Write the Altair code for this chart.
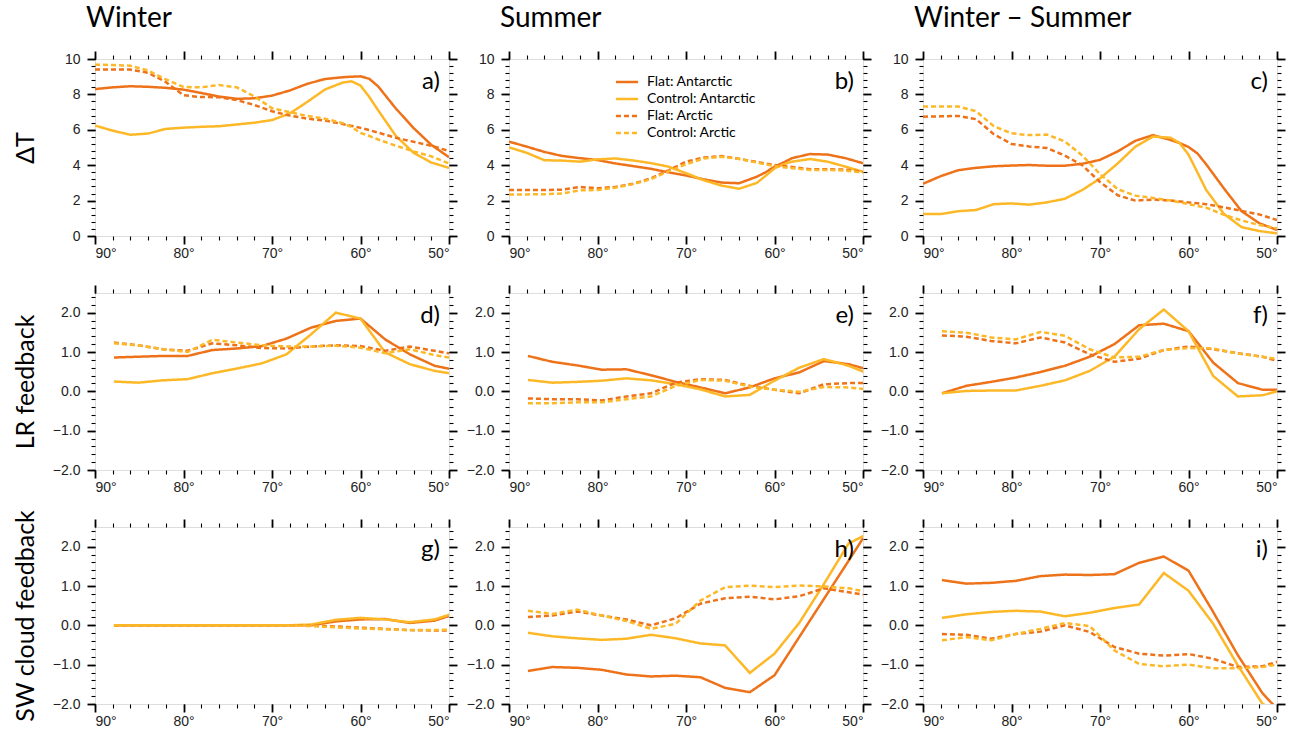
import altair as alt
import pandas as pd

SERIES = ["Flat: Antarctic", "Control: Antarctic", "Flat: Arctic", "Control: Arctic"]
COLORS = ["#ee7219", "#fdb827", "#ee7219", "#fdb827"]
DASHES = [[1, 0], [1, 0], [5, 3], [5, 3]]

COL_TITLES = ["Winter", "Summer", "Winter \u2013 Summer"]
ROW_TITLES = ["\u0394T", "LR feedback", "SW cloud feedback"]
LETTERS = ["a)", "b)", "c)", "d)", "e)", "f)", "g)", "h)", "i)"]

# latitude grids
LAT_T = [90, 88, 86, 84, 82, 80, 78, 76, 74, 72, 70, 68, 66, 64, 62, 61, 60, 59, 58, 56, 54, 52, 50]
LAT_G = [87.86, 85.10, 82.31, 79.53, 76.74, 73.95, 71.16, 68.37, 65.58, 62.79, 60.00, 57.21, 54.42, 51.63, 48.84]

# a) Winter dT
A_FA = [8.30, 8.40, 8.46, 8.43, 8.37, 8.27, 8.08, 7.88, 7.75, 7.78, 7.93, 8.22, 8.60, 8.87, 8.97, 9.00, 9.02, 8.88, 8.45, 7.20, 6.10, 5.15, 4.45]
A_CA = [6.24, 5.95, 5.72, 5.79, 6.05, 6.12, 6.17, 6.20, 6.30, 6.40, 6.55, 6.92, 7.58, 8.28, 8.67, 8.74, 8.50, 7.85, 7.10, 5.65, 4.70, 4.15, 3.85]
A_FR = [9.40, 9.40, 9.40, 9.22, 8.70, 7.95, 7.85, 7.84, 7.68, 7.40, 7.05, 6.80, 6.63, 6.52, 6.32, 6.22, 6.11, 5.98, 5.84, 5.55, 5.32, 5.10, 4.80]
A_CR = [9.68, 9.66, 9.62, 9.35, 8.85, 8.42, 8.40, 8.53, 8.40, 7.89, 7.22, 7.00, 6.78, 6.62, 6.38, 6.15, 5.83, 5.65, 5.45, 5.10, 4.78, 4.50, 4.10]
# b) Summer dT
B_FA = [5.33, 5.05, 4.75, 4.52, 4.40, 4.29, 4.10, 3.95, 3.80, 3.60, 3.42, 3.20, 3.02, 2.98, 3.35, 3.60, 3.92, 4.15, 4.40, 4.63, 4.60, 4.40, 4.11]
B_CA = [5.01, 4.70, 4.28, 4.26, 4.20, 4.33, 4.38, 4.27, 4.12, 3.92, 3.55, 3.15, 2.85, 2.67, 3.00, 3.40, 3.82, 4.05, 4.20, 4.35, 4.20, 3.92, 3.63]
B_FR = [2.60, 2.60, 2.60, 2.62, 2.77, 2.70, 2.77, 2.95, 3.25, 3.70, 4.20, 4.43, 4.52, 4.36, 4.18, 4.10, 4.01, 3.95, 3.90, 3.77, 3.77, 3.75, 3.63]
B_CR = [2.35, 2.35, 2.36, 2.40, 2.58, 2.60, 2.73, 2.93, 3.20, 3.65, 4.05, 4.38, 4.48, 4.35, 4.15, 4.05, 3.95, 3.88, 3.83, 3.73, 3.73, 3.70, 3.58]
# c) Winter - Summer dT
C_FA = [2.95, 3.38, 3.72, 3.85, 3.94, 3.98, 4.01, 3.97, 3.97, 4.08, 4.30, 4.78, 5.38, 5.70, 5.42, 5.25, 5.03, 4.67, 4.05, 2.69, 1.40, 0.72, 0.34]
C_CA = [1.24, 1.24, 1.40, 1.47, 1.80, 1.84, 1.77, 1.90, 2.10, 2.60, 3.25, 4.10, 5.05, 5.62, 5.55, 5.25, 4.60, 3.60, 2.60, 1.25, 0.50, 0.28, 0.15]
C_FR = [6.74, 6.76, 6.78, 6.60, 5.75, 5.20, 5.06, 4.97, 4.55, 4.00, 3.05, 2.30, 2.00, 2.06, 2.00, 1.95, 1.90, 1.85, 1.80, 1.62, 1.42, 1.22, 0.90]
C_CR = [7.31, 7.31, 7.31, 7.05, 6.20, 5.80, 5.70, 5.73, 5.35, 4.55, 3.50, 2.65, 2.28, 2.15, 2.00, 1.90, 1.80, 1.70, 1.60, 1.20, 0.88, 0.62, 0.43]

# d) Winter LR feedback
D_FA = [0.86, 0.88, 0.90, 0.90, 1.05, 1.09, 1.15, 1.34, 1.62, 1.79, 1.85, 1.32, 0.94, 0.65, 0.52]
D_CA = [0.25, 0.22, 0.28, 0.31, 0.46, 0.58, 0.71, 0.94, 1.45, 2.00, 1.85, 0.99, 0.69, 0.52, 0.42]
D_FR = [1.24, 1.17, 1.07, 1.03, 1.22, 1.17, 1.10, 1.09, 1.14, 1.17, 1.15, 1.03, 1.14, 1.03, 0.92]
D_CR = [1.22, 1.17, 1.07, 1.00, 1.31, 1.24, 1.17, 1.14, 1.14, 1.16, 1.11, 0.97, 1.07, 0.92, 0.82]
# e) Summer LR feedback
E_FA = [0.90, 0.75, 0.66, 0.55, 0.56, 0.41, 0.24, 0.10, -0.05, 0.10, 0.33, 0.48, 0.77, 0.69, 0.52]
E_CA = [0.29, 0.22, 0.24, 0.27, 0.33, 0.28, 0.18, 0.05, -0.13, -0.09, 0.27, 0.60, 0.82, 0.65, 0.40]
E_FR = [-0.18, -0.20, -0.20, -0.23, -0.13, -0.05, 0.22, 0.31, 0.29, 0.14, 0.04, -0.05, 0.18, 0.21, 0.21]
E_CR = [-0.30, -0.30, -0.28, -0.28, -0.20, -0.13, 0.14, 0.29, 0.27, 0.12, 0.04, -0.01, 0.11, 0.10, 0.03]
# f) Winter - Summer LR feedback
F_FA = [-0.05, 0.14, 0.24, 0.35, 0.49, 0.65, 0.88, 1.20, 1.68, 1.72, 1.53, 0.73, 0.21, 0.04, 0.04]
F_CA = [-0.05, 0.01, 0.02, 0.02, 0.14, 0.28, 0.52, 0.88, 1.58, 2.08, 1.53, 0.39, -0.13, -0.10, 0.07]
F_FR = [1.42, 1.39, 1.28, 1.22, 1.37, 1.24, 0.94, 0.75, 0.83, 1.05, 1.14, 1.07, 0.97, 0.88, 0.70]
F_CR = [1.53, 1.49, 1.37, 1.32, 1.51, 1.41, 1.07, 0.86, 0.88, 1.05, 1.10, 1.09, 0.96, 0.88, 0.78]

# g) Winter SW cloud feedback
G_FA = [0.0, 0.0, 0.0, 0.0, 0.0, 0.0, 0.0, 0.0, 0.0, 0.10, 0.15, 0.16, 0.06, 0.12, 0.32]
G_CA = [0.0, 0.0, 0.0, 0.0, 0.0, 0.0, 0.0, 0.0, 0.02, 0.14, 0.19, 0.15, 0.08, 0.15, 0.35]
G_FR = [0.0, 0.0, 0.0, 0.0, 0.0, 0.0, 0.0, 0.0, -0.01, -0.03, -0.06, -0.09, -0.12, -0.13, -0.13]
G_CR = [0.0, 0.0, 0.0, 0.0, 0.0, 0.0, 0.0, 0.0, -0.02, -0.05, -0.08, -0.10, -0.12, -0.12, -0.10]
# h) Summer SW cloud feedback
H_FA = [-1.16, -1.06, -1.08, -1.13, -1.25, -1.30, -1.28, -1.32, -1.59, -1.70, -1.27, -0.30, 0.67, 1.64, 2.62]
H_CA = [-0.19, -0.28, -0.33, -0.37, -0.34, -0.24, -0.33, -0.46, -0.51, -1.21, -0.72, 0.06, 1.05, 2.08, 2.40]
H_FR = [0.21, 0.25, 0.35, 0.25, 0.15, 0.00, 0.18, 0.55, 0.69, 0.73, 0.66, 0.74, 0.94, 0.84, 0.74]
H_CR = [0.37, 0.29, 0.40, 0.25, 0.11, -0.09, 0.04, 0.63, 0.97, 1.01, 0.97, 1.01, 0.99, 0.94, 0.82]
# i) Winter - Summer SW cloud feedback
I_FA = [1.15, 1.06, 1.08, 1.13, 1.25, 1.29, 1.28, 1.30, 1.59, 1.75, 1.39, 0.34, -0.76, -1.73, -2.40]
I_CA = [0.19, 0.28, 0.34, 0.37, 0.35, 0.23, 0.32, 0.44, 0.53, 1.33, 0.88, 0.04, -1.02, -2.00, -2.30]
I_FR = [-0.22, -0.24, -0.34, -0.22, -0.16, 0.00, -0.17, -0.55, -0.72, -0.77, -0.73, -0.85, -1.06, -1.04, -0.85]
I_CR = [-0.38, -0.30, -0.38, -0.22, -0.09, 0.06, -0.02, -0.64, -0.98, -1.04, -1.00, -1.09, -1.09, -1.06, -0.95]

PANELS = [
    (LAT_T, [A_FA, A_CA, A_FR, A_CR]),
    (LAT_T, [B_FA, B_CA, B_FR, B_CR]),
    (LAT_T, [C_FA, C_CA, C_FR, C_CR]),
    (LAT_G, [D_FA, D_CA, D_FR, D_CR]),
    (LAT_G, [E_FA, E_CA, E_FR, E_CR]),
    (LAT_G, [F_FA, F_CA, F_FR, F_CR]),
    (LAT_G, [G_FA, G_CA, G_FR, G_CR]),
    (LAT_G, [H_FA, H_CA, H_FR, H_CR]),
    (LAT_G, [I_FA, I_CA, I_FR, I_CR]),
]

W, H = 354, 177
X_MAJOR = [90, 80, 70, 60, 50]
X_MINOR = list(range(50, 91, 2))
Y_T_MAJOR = [0, 2, 4, 6, 8, 10]
Y_T_MINOR = [round(i * 0.4, 1) for i in range(26)]
Y_F_MAJOR = [-2, -1, 0, 1, 2]
Y_F_MINOR = [round(-2 + i * 0.2, 1) for i in range(23)]

TICK_FONT = "Liberation Sans"
TEXT_FONT = "Lato"


def make_panel(idx):
    lats, vals = PANELS[idx]
    row, col = divmod(idx, 3)
    rows = []
    for s, v in zip(SERIES, vals):
        for la, y in zip(lats, v):
            rows.append({"lat": la, "val": y, "series": s})
    df = pd.DataFrame(rows)

    if row == 0:
        ydom, ymaj, ymin, yexpr = [0, 10], Y_T_MAJOR, Y_T_MINOR, "format(datum.value, 'd')"
    else:
        ydom, ymaj, ymin, yexpr = [-2, 2.5], Y_F_MAJOR, Y_F_MINOR, "format(datum.value, '.1f')"

    xs = alt.Scale(domain=[50, 90], reverse=True, nice=False, zero=False)
    ys = alt.Scale(domain=ydom, nice=False, zero=False)

    def xax(orient, major, labels):
        return alt.Axis(orient=orient, values=X_MAJOR if major else X_MINOR, labels=labels,
                        labelExpr="datum.value + '\u00b0'", tickSize=8 if major else 4,
                        tickWidth=1.8 if major else 1.1, tickColor="black", domain=False, grid=False,
                        title=None, labelPadding=2, labelFont=TICK_FONT, labelFontSize=14,
                        labelColor="#222")

    def yax(orient, major, labels, title=None):
        if title is not None:
            kw = dict(title=title, titleFont=TEXT_FONT, titleFontSize=25, titleFontWeight="normal",
                      titleColor="black", titleAngle=270, titleBaseline="alphabetic",
                      titleAlign="center", titleX=-62, titleY=H / 2)
        else:
            kw = dict(title=None)
        return alt.Axis(orient=orient, values=ymaj if major else ymin, labels=labels,
                        labelExpr=yexpr, tickSize=8 if major else 4,
                        tickWidth=1.8 if major else 1.1, tickColor="black", domain=False, grid=False,
                        labelPadding=7, labelFont=TICK_FONT, labelFontSize=14, labelColor="#222", **kw)

    base = alt.Chart(df)
    if idx == 1:
        legend = alt.Legend(orient="none", legendX=108, legendY=13, title=None,
                            symbolType="M-1.3,0H1.3", symbolSize=289, symbolStrokeWidth=2.5,
                            symbolFillColor="transparent", labelFont=TEXT_FONT,
                            labelFontSize=14, labelColor="black", rowPadding=0, padding=0,
                            labelOffset=10, symbolOffset=0)
    else:
        legend = None
    lines = base.mark_line(clip=True, strokeWidth=2.5).encode(
        x=alt.X("lat:Q", scale=xs, axis=xax("bottom", True, True)),
        y=alt.Y("val:Q", scale=ys, axis=yax("left", True, True, ROW_TITLES[row] if col == 0 else None)),
        color=alt.Color("series:N", scale=alt.Scale(domain=SERIES, range=COLORS), legend=legend),
        strokeDash=alt.StrokeDash("series:N", scale=alt.Scale(domain=SERIES, range=DASHES), legend=legend),
    )
    ghost = base.mark_line(opacity=0, clip=True)
    l2 = ghost.encode(x=alt.X("lat:Q", scale=xs, axis=xax("bottom", False, False)),
                      y=alt.Y("val:Q", scale=ys, axis=yax("left", False, False)), detail="series:N")
    l3 = ghost.encode(x=alt.X("lat:Q", scale=xs, axis=xax("top", True, False)),
                      y=alt.Y("val:Q", scale=ys, axis=yax("right", True, False)), detail="series:N")
    l4 = ghost.encode(x=alt.X("lat:Q", scale=xs, axis=xax("top", False, False)),
                      y=alt.Y("val:Q", scale=ys, axis=yax("right", False, False)), detail="series:N")
    letter = alt.Chart(pd.DataFrame({"t": [LETTERS[idx]]})).mark_text(
        align="right", baseline="alphabetic", font=TEXT_FONT, fontSize=24, color="black"
    ).encode(text="t:N", x=alt.value(W - 9), y=alt.value(30))

    layer = alt.layer(lines, l2, l3, l4, letter).resolve_axis(x="independent", y="independent")
    props = dict(width=W, height=H)
    if row == 0:
        props["title"] = alt.TitleParams(COL_TITLES[col], anchor="start", frame="group", font=TEXT_FONT,
                                         fontSize=28, fontWeight="normal", color="black", dx=-9, offset=17)
    return layer.properties(**props)


panels = [make_panel(i) for i in range(9)]
chart = alt.concat(*panels, columns=3, spacing={"row": 57, "column": 60}, bounds="flush").resolve_scale(
    x="independent", y="independent", color="independent", strokeDash="independent"
).resolve_legend(color="independent", strokeDash="independent").properties(
    padding={"left": 12, "top": 4, "right": 4, "bottom": 4}
).configure_view(stroke="black", strokeWidth=1.8).configure(background="white")

chart.save("out.html", embed_options={"renderer": "svg", "actions": False})
